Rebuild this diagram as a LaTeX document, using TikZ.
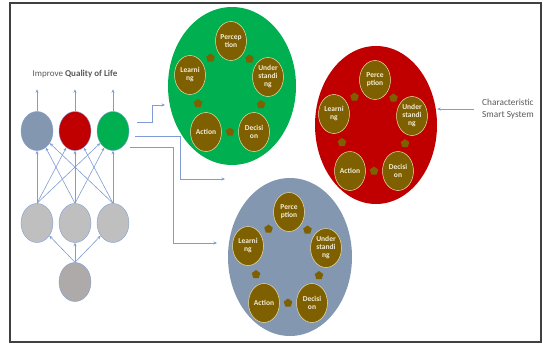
\documentclass[tikz,border=0pt]{standalone}
\usepackage{fontspec}
\setmainfont{Carlito}
\usepackage{xcolor}
\usepackage{tikz}
\usetikzlibrary{arrows.meta,shapes.geometric}
\definecolor{sysgreen}{HTML}{00B050}
\definecolor{sysred}{HTML}{C00000}
\definecolor{sysblue}{HTML}{8497B0}
\definecolor{stagebrown}{HTML}{7F6000}
\definecolor{stageedge}{HTML}{E8DFA8}
\definecolor{stagetext}{HTML}{F4EDD6}
\definecolor{linkblue}{HTML}{7F9CD4}
\definecolor{hidgray}{HTML}{BFBFBF}
\definecolor{ingray}{HTML}{AEAAAA}
\definecolor{titlegray}{HTML}{595959}
\definecolor{framegray}{HTML}{404040}

\begin{document}
\begin{tikzpicture}[x=1pt,y=-1pt,
  unit/.style={ellipse,draw=linkblue,line width=0.4pt,minimum width=32pt,minimum height=39pt,inner sep=0pt},
  system/.style={ellipse,minimum height=158pt,inner sep=0pt},
  stage/.style={ellipse,fill=stagebrown,draw=stageedge,line width=0.5pt,minimum width=31pt,minimum height=39pt,
    inner sep=0pt,text=stagetext,font=\fontsize{7.5}{8}\selectfont\bfseries,align=center},
  blob/.style={regular polygon,regular polygon sides=5,fill=stagebrown,inner sep=0pt,minimum size=9pt},
  link/.style={draw=linkblue,line width=0.6pt,-{Stealth[length=3.5pt,width=3pt]}}]
\useasboundingbox (0,0) rectangle (543,345);
\draw[framegray,line width=1.6pt] (10,3) rectangle (541,342);

% network
\node[font=\fontsize{9}{10}\selectfont,text=titlegray] (title) at (75,74) {Improve \textbf{Quality of Life}};
\foreach \i/\x/\col in {1/37/sysblue,2/75/sysred,3/113/sysgreen} {
  \node[unit,fill=\col] (o\i) at (\x,131) {};
  \node[unit,fill=hidgray] (h\i) at (\x,223) {};
  \draw[link] (o\i.north) -- ++(0,-22);
}
\node[unit,fill=ingray] (in) at (75,282) {};
\foreach \i in {1,2,3} {
  \draw[link] (in.north) -- (h\i);
  \foreach \j in {1,2,3}
    \draw[link] (h\i.north) -- (o\j);
}

% smart systems
\foreach \nm/\cx/\cy/\w/\col/\pt in {g/232/86/128/sysgreen/Percep\\tion,
    r/376/125/122/sysred/Perce\\ption, b/290/257/124/sysblue/Perce\\ption} {
  \node[system,minimum width=\w pt,fill=\col] (\nm) at (\cx,\cy) {};
  \node[stage] (\nm-p) at (\cx-1,\cy-45) {\pt};
  \node[stage] (\nm-u) at (\cx+36,\cy-9) {Under\\standi\\ng};
  \node[stage] (\nm-d) at (\cx+22,\cy+46) {Decisi\\on};
  \node[stage] (\nm-a) at (\cx-26,\cy+46) {Action};
  \node[stage] (\nm-l) at (\cx-42,\cy-11) {Learni\\ng};
  \path (\nm-p) -- node[blob] {} (\nm-u);
  \path (\nm-u) -- node[blob] {} (\nm-d);
  \path (\nm-d) -- node[blob] {} (\nm-a);
  \path (\nm-a) -- node[blob] {} (\nm-l);
  \path (\nm-l) -- node[blob] {} (\nm-p);
}

% links to the systems
\coordinate (gin) at (165,105);
\coordinate (rin) at (225,179);
\coordinate (bin) at (217,243);
\draw[link] ([shift={(24,-9)}]o3.center) -- ++(15,0) |- (gin);
\draw[link] ([shift={(22,5)}]o3.center) -- ++(45,0) |- (rin);
\draw[link] ([shift={(17,16)}]o3.center) -- ++(43,0) |- (bin);

\node[anchor=west,align=left,font=\fontsize{9.3}{11.5}\selectfont,text=titlegray,inner sep=1pt] (css) at (481,109)
  {Characteristic\\Smart System};
\draw[link] ([xshift=-7pt]css.west) -- (r.east |- css.west);
\end{tikzpicture}
\end{document}
